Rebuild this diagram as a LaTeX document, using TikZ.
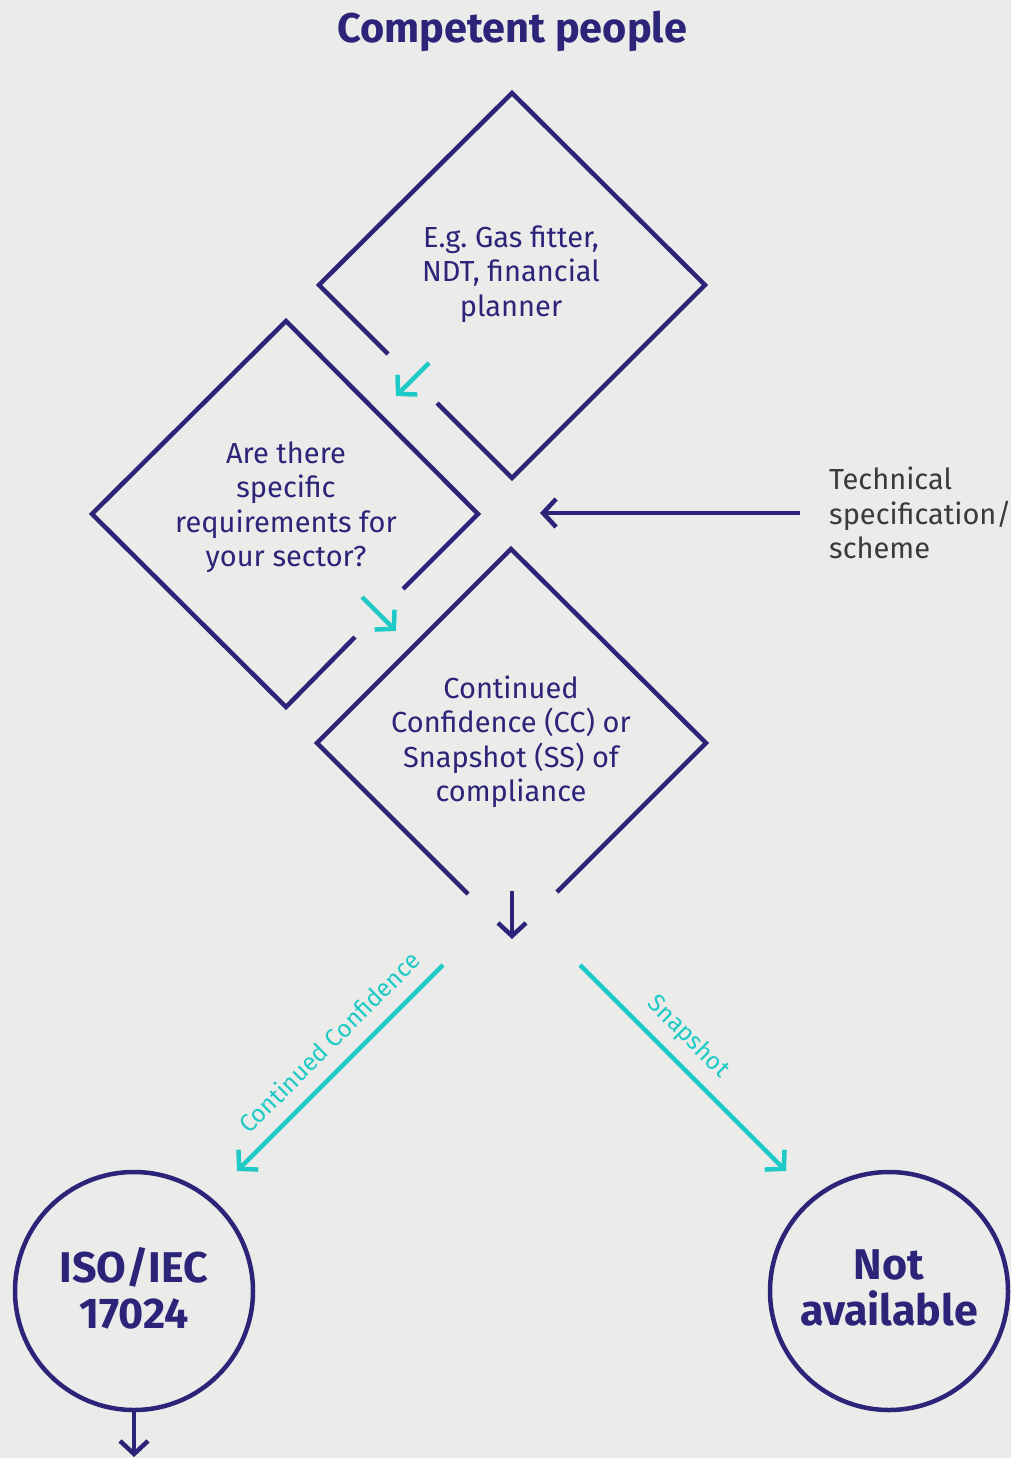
\documentclass[tikz,border=0pt]{standalone}
\usepackage{fontspec}
\setmainfont{Fira Sans}
\usetikzlibrary{arrows.meta}
\definecolor{navyc}{HTML}{2B2478}
\definecolor{cyanc}{HTML}{1ECAC5}
\definecolor{bgc}{HTML}{EBEBE9}
\definecolor{graytxt}{HTML}{3A3A3A}
\frenchspacing
\begin{document}
\begin{tikzpicture}[x=1pt,y=-1pt,
  nline/.style={draw=navyc,line width=4.5pt},
  cline/.style={draw=cyanc,line width=4.5pt},
  ntip/.style={nline,-{Straight Barb[length=13pt,width=28pt,sharp]}},
  ctip/.style={cline,-{Straight Barb[length=13pt,width=28pt,sharp]}},
  dtext/.style={text=navyc,align=center,font=\fontsize{29}{34.5}\selectfont,inner sep=0pt},
  ctext/.style={text=navyc,align=center,font=\bfseries\fontsize{43}{46}\selectfont,inner sep=0pt},
  circ/.style={circle,nline,minimum size=238pt,inner sep=0pt},
  lbl/.style={text=cyanc,font=\fontsize{24.5}{27}\selectfont,inner sep=0pt}]
\fill[bgc] (0,0) rectangle (1011,1458);
\useasboundingbox (0,0) rectangle (1011,1458);

% title
\node[text=navyc,font=\bfseries\fontsize{41.5}{45}\selectfont,inner sep=0pt] (title) at (512,31) {Competent people};

% top diamond
\coordinate (aT) at (512,93);
\coordinate (aR) at (705,285);
\coordinate (aB) at (512,478);
\coordinate (aL) at (319,285);
\coordinate (aG1) at (437,403);
\coordinate (aG2) at (388,354);
\draw[nline,line join=miter] (aG2) -- (aL) -- (aT) -- (aR) -- (aB) -- (aG1);
\node[dtext] (d1) at (511,274) {E.g. Gas fitter,\\NDT, financial\\planner};

% left diamond
\coordinate (bT) at (286,321);
\coordinate (bR) at (478,514);
\coordinate (bB) at (286,707);
\coordinate (bL) at (92,514);
\coordinate (bG1) at (403,589);
\coordinate (bG2) at (355,637);
\draw[nline,line join=miter] (bG1) -- (bR) -- (bT) -- (bL) -- (bB) -- (bG2);
\node[dtext] (d2) at (286,507) {Are there\\specific\\requirements for\\your sector?};

% bottom diamond
\coordinate (cT) at (511,549);
\coordinate (cR) at (706,743);
\coordinate (cL) at (317,743);
\coordinate (cG1) at (468,894);
\coordinate (cG2) at (557,892);
\draw[nline,line join=miter] (cG1) -- (cL) -- (cT) -- (cR) -- (cG2);
\node[dtext] (d3) at (511,742) {Continued\\Confidence (CC) or\\Snapshot (SS) of\\compliance};

% cyan arrows in gaps
\coordinate (g1s) at (429,363);
\coordinate (g1e) at (396,396);
\draw[ctip] (g1s) -- (g1e);
\coordinate (g2s) at (362,597);
\coordinate (g2e) at (396,631);
\draw[ctip] (g2s) -- (g2e);

% technical specification
\node[text=graytxt,align=left,anchor=west,font=\fontsize{29}{34.5}\selectfont,inner sep=0pt] (tech) at (829,513) {Technical\\specification/\\scheme};
\coordinate (ts) at (800,513);
\coordinate (te) at (540,513);
\draw[ntip] (ts) -- (te);

% down arrow from bottom diamond
\coordinate (ds) at (512,891);
\coordinate (de) at (512,939);
\draw[ntip] (ds) -- (de);

% result circles
\node[circ] (iso) at (134,1291) {};
\node[ctext] at ([yshift=3pt]iso.center) {ISO/IEC\\17024};
\node[circ] (na) at (889,1291) {};
\node[ctext] at ([yshift=3pt]na.center) {Not\\available};

% branch arrows
\coordinate (l1) at (443,965);
\coordinate (l2) at (237,1171);
\draw[ctip] (l1) -- (l2);
\node[lbl,rotate=45] (lcc) at (329,1042) {Continued Confidence};
\coordinate (r1) at (580,965);
\coordinate (r2) at (786,1171);
\draw[ctip] (r1) -- (r2);
\node[lbl,rotate=-45] (lss) at (688,1037) {Snapshot};

% bottom arrow
\coordinate (be) at (134,1457);
\draw[ntip] (iso.south) -- (be);
\end{tikzpicture}
\end{document}
